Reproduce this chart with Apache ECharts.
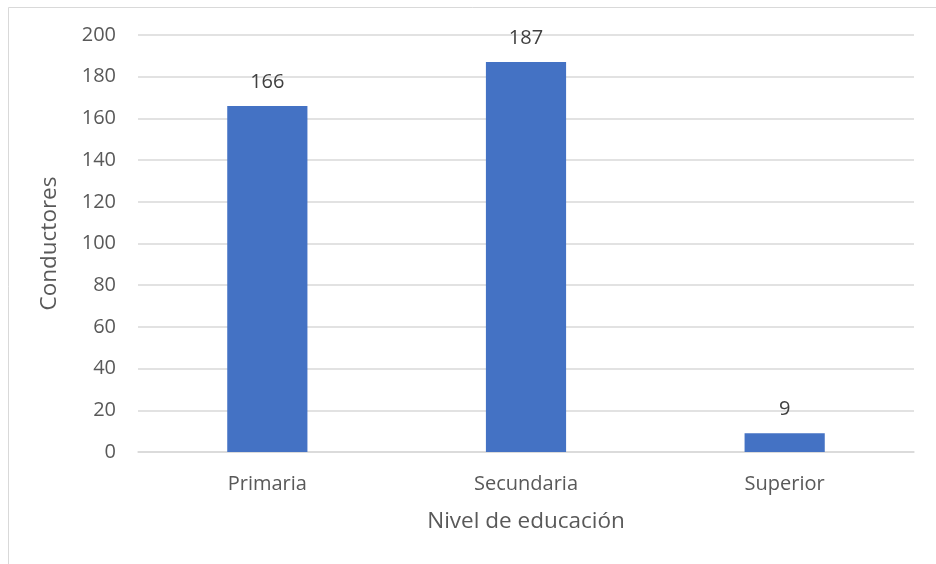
<!DOCTYPE html>
<html>
<head>
<meta charset="utf-8">
<script src="https://cdn.jsdelivr.net/npm/echarts@6/dist/echarts.min.js"></script>
<style>
  html, body { margin: 0; padding: 0; background: #fff; }
  #chart { width: 936px; height: 564px; }
</style>
</head>
<body>
<div id="chart"></div>
<script>
// Conductores por nivel de educación
const categories = ['Primaria', 'Secundaria', 'Superior'];
const conductores = [166, 187, 9];
const yTicks = { min: 0, max: 200, interval: 20 };

const FONT = 'Open Sans';
const TEXT = '#595959';

const chart = echarts.init(document.getElementById('chart'));
chart.setOption({
  animation: false,
  backgroundColor: '#ffffff',
  textStyle: { fontFamily: FONT },
  graphic: [{
    type: 'rect',
    shape: { x: 8.5, y: 7.5, width: 960, height: 600 },
    style: { fill: 'none', stroke: '#d9d9d9', lineWidth: 1 },
    silent: true
  }],
  grid: { left: 138, right: 22, top: 35, bottom: 112 },
  xAxis: {
    type: 'category',
    data: categories,
    name: 'Nivel de educación',
    nameLocation: 'middle',
    nameGap: 58,
    nameTextStyle: { fontFamily: FONT, fontSize: 22.5, color: TEXT },
    axisLine: { show: true, lineStyle: { color: '#d9d9d9', width: 1.5 } },
    axisTick: { show: false },
    axisLabel: { margin: 22, fontFamily: FONT, fontSize: 20, color: TEXT }
  },
  yAxis: {
    type: 'value',
    min: yTicks.min,
    max: yTicks.max,
    interval: yTicks.interval,
    name: 'Conductores',
    nameLocation: 'middle',
    nameGap: 77,
    nameTextStyle: { fontFamily: FONT, fontSize: 22.5, color: TEXT },
    axisLine: { show: false },
    axisTick: { show: false },
    axisLabel: { margin: 22, fontFamily: FONT, fontSize: 20, color: TEXT },
    splitLine: { lineStyle: { color: '#d9d9d9', width: 1.5 } }
  },
  series: [{
    type: 'bar',
    data: conductores,
    barWidth: '31%',
    itemStyle: { color: '#4472c4' },
    label: {
      show: true,
      position: 'top',
      distance: 13.5,
      fontFamily: FONT,
      fontSize: 20,
      color: '#404040'
    }
  }]
});
</script>
</body>
</html>
